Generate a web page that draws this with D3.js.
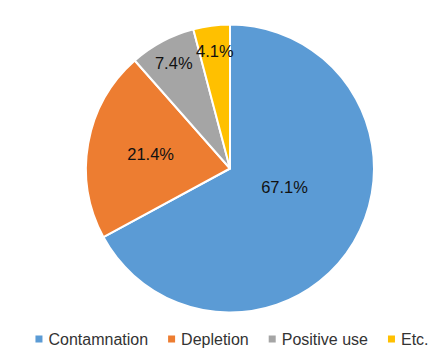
<!DOCTYPE html>
<html><head><meta charset="utf-8">
<script src="https://cdn.jsdelivr.net/npm/d3@7"></script>
<style>html,body{margin:0;padding:0;background:#fff;}svg{display:block;}</style>
</head><body>
<svg id="c" width="448" height="354"></svg>
<script>
const categories = ["Contamnation", "Depletion", "Positive use", "Etc."];
const values = [67.1, 21.4, 7.4, 4.1];
const labels = ["67.1%", "21.4%", "7.4%", "4.1%"];
const colors = ["#5B9BD5", "#ED7D31", "#A5A5A5", "#FFC000"];
// label placement: radius fraction and angle shift (deg)
const labelR = [0.40, 0.56, 0.83, 0.82];
const labelShift = [-12, 0, 0, 0];

const svg = d3.select("#c");
const cx = 230, cy = 168.5, r = 144;
const g = svg.append("g").attr("transform", `translate(${cx},${cy})`);
const pie = d3.pie().sort(null).value(d => d)(values);
const arc = d3.arc().innerRadius(0).outerRadius(r);
g.selectAll("path").data(pie).join("path")
  .attr("d", arc).attr("fill", (d, i) => colors[i])
  .attr("stroke", "#fff").attr("stroke-width", 2).attr("stroke-linejoin", "round");
g.selectAll("text").data(pie).join("text")
  .attr("transform", (d, i) => {
    const a = (d.startAngle + d.endAngle) / 2 + labelShift[i] * Math.PI / 180;
    const rr = labelR[i] * r;
    return `translate(${rr * Math.sin(a)},${-rr * Math.cos(a)})`;
  })
  .attr("text-anchor", "middle").attr("dy", "0.36em")
  .attr("font-family", "Liberation Sans, Arial, sans-serif").attr("font-size", 16.5)
  .attr("fill", "#111")
  .text((d, i) => labels[i]);

// legend
const lg = svg.append("g").attr("font-family", "Liberation Sans, Arial, sans-serif").attr("font-size", 16).attr("fill", "#333");
const items = lg.selectAll("g").data(categories).join("g");
items.append("rect").attr("width", 7).attr("height", 7).attr("y", -4).attr("fill", (d, i) => colors[i]);
items.append("text").attr("x", 13).attr("dy", "0.35em").text(d => d);
let x = 0; const gap = 20;
items.each(function () {
  const w = this.querySelector("text").getComputedTextLength();
  d3.select(this).attr("transform", `translate(${x},339.5)`);
  x += 13 + w + gap;
});
const total = x - gap;
lg.attr("transform", `translate(${232 - total / 2},0)`);
</script>
</body></html>
